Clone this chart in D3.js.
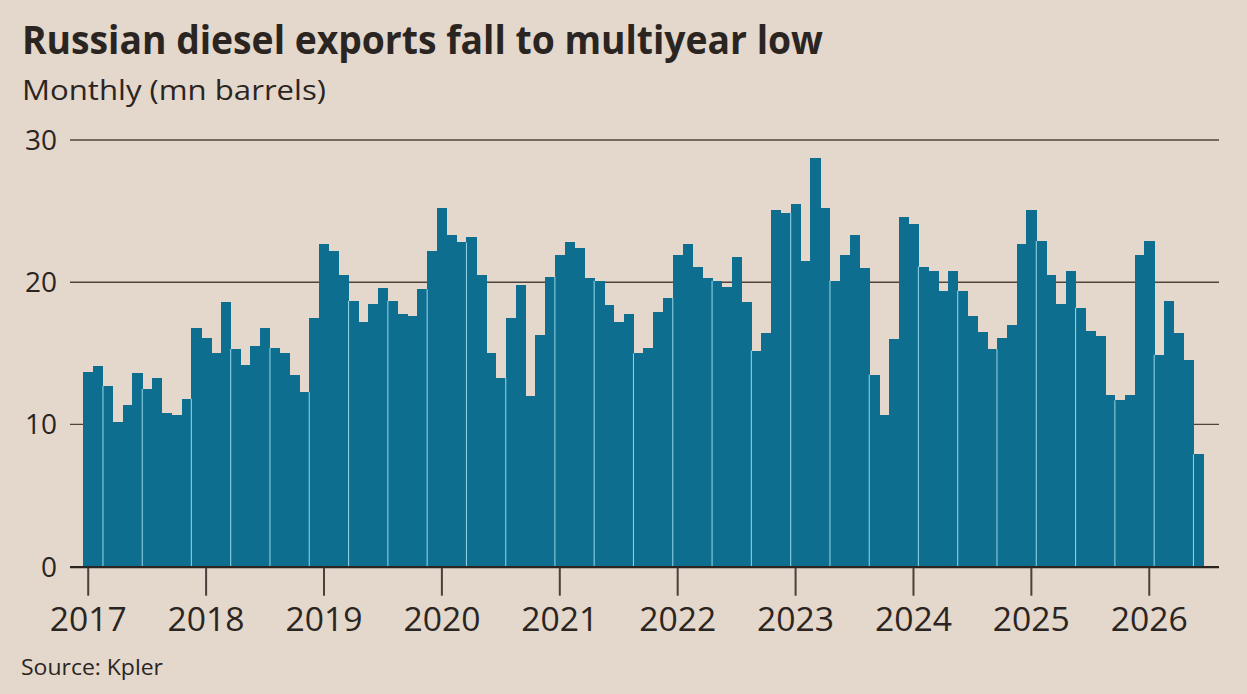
<!DOCTYPE html>
<html>
    <head>
        <meta charset="utf-8">
        <title>Russian diesel exports</title>
        <style>
            body { margin: 0; background: #e4d7cc; }
            svg text { font-family: "Open Sans", sans-serif; fill: #2b2522; }
        </style>
    </head>
    <body>
        <script src="https://cdnjs.cloudflare.com/ajax/libs/d3/7.8.5/d3.min.js" charset="utf-8"></script>
        <script>

        var w = 1247;
        var h = 694;

        // tick labels
        var years = ["2017", "2018", "2019", "2020", "2021", "2022", "2023", "2024", "2025", "2026"];
        var monthNames = ["Jan", "Feb", "Mar", "Apr", "May", "Jun", "Jul", "Aug", "Sep", "Oct", "Nov", "Dec"];
        var yTicks = [0, 10, 20, 30];

        // monthly exports, mn barrels, Jan 2017 - Jun 2026
        var exports = [
            13.7, 14.1, 12.7, 10.2, 11.4, 13.6, 12.5, 13.3, 10.8, 10.7, 11.8, 16.8,
            16.1, 15.0, 18.6, 15.3, 14.2, 15.5, 16.8, 15.4, 15.0, 13.5, 12.3, 17.5,
            22.7, 22.2, 20.5, 18.7, 17.2, 18.5, 19.6, 18.7, 17.8, 17.6, 19.5, 22.2,
            25.2, 23.3, 22.8, 23.2, 20.5, 15.0, 13.3, 17.5, 19.8, 12.0, 16.3, 20.4,
            21.9, 22.8, 22.4, 20.3, 20.1, 18.4, 17.2, 17.8, 15.0, 15.4, 17.9, 18.9,
            21.9, 22.7, 21.1, 20.3, 20.1, 19.7, 21.8, 18.6, 15.2, 16.4, 25.1, 24.9,
            25.5, 21.5, 28.7, 25.2, 20.1, 21.9, 23.3, 21.0, 13.5, 10.7, 16.0, 24.6,
            24.1, 21.1, 20.8, 19.4, 20.8, 19.4, 17.6, 16.5, 15.3, 16.1, 17.0, 22.7,
            25.1, 22.9, 20.5, 18.5, 20.8, 18.2, 16.6, 16.2, 12.1, 11.7, 12.1, 21.9,
            22.9, 14.9, 18.7, 16.4, 14.5, 7.9
        ];

        // month categories, e.g. "Jan 2017"
        var months = exports.map(function(d, i) {
            return monthNames[i % 12] + " " + years[Math.floor(i / 12)];
        });

        var dataset = months.map(function(m, i) { return { month: m, value: exports[i] }; });

        var svg = d3.select("body")
                    .append("svg")
                    .attr("width", w)
                    .attr("height", h);

        svg.append("rect")
            .attr("width", w)
            .attr("height", h)
            .attr("fill", "#e4d7cc");

        var xScale = d3.scaleBand()
                        .domain(months)
                        .range([83.3, 1203.3])
                        .padding(0);

        var yScale = d3.scaleLinear()
                        .domain([0, 30])
                        .range([566.7, 140]);

        var gridLeft = 70, gridRight = 1219;

        // gridlines
        svg.append("g")
            .selectAll("line")
            .data(yTicks.filter(function(d) { return d > 0; }))
            .enter()
            .append("line")
            .attr("x1", gridLeft)
            .attr("x2", gridRight)
            .attr("y1", function(d) { return yScale(d); })
            .attr("y2", function(d) { return yScale(d); })
            .attr("stroke", "#4f433c")
            .attr("stroke-width", 1.3);

        // y labels
        svg.append("g")
            .selectAll("text")
            .data(yTicks)
            .enter()
            .append("text")
            .attr("x", 57)
            .attr("y", function(d) { return yScale(d) + 10; })
            .attr("text-anchor", "end")
            .attr("font-size", 28)
            .text(function(d) { return d; });

        // bars
        svg.append("g")
            .attr("shape-rendering", "crispEdges")
            .selectAll("rect")
            .data(dataset)
            .enter()
            .append("rect")
            .attr("x", function(d) { return xScale(d.month); })
            .attr("y", function(d) { return yScale(d.value); })
            .attr("width", xScale.bandwidth() + 0.5)
            .attr("height", function(d) { return yScale(0) - yScale(d.value); })
            .attr("fill", "#0e6e8f");

        // thin light seams between some bars (as in the source image, roughly every 4 bars)
        var seams = [];
        for (var n = 1; ; n++) {
            var k = Math.ceil(n * 37 / 9 - 2.25);
            if (k >= dataset.length) break;
            seams.push(k);
        }
        svg.append("g")
            .selectAll("line")
            .data(seams)
            .enter()
            .append("line")
            .attr("x1", function(k) { return xScale(months[k]); })
            .attr("x2", function(k) { return xScale(months[k]); })
            .attr("y1", yScale(0))
            .attr("y2", function(k) { return yScale(Math.min(exports[k], exports[k - 1])); })
            .attr("stroke", "#8ccfe0")
            .attr("stroke-width", 1.1);

        // baseline
        svg.append("line")
            .attr("x1", gridLeft)
            .attr("x2", gridRight)
            .attr("y1", yScale(0) + 0.5)
            .attr("y2", yScale(0) + 0.5)
            .attr("stroke", "#2b2522")
            .attr("stroke-width", 2.2);

        // x axis: tick at each January
        var xAxis = d3.axisBottom(xScale)
                        .tickValues(years.map(function(y) { return "Jan " + y; }))
                        .tickFormat(function(d) { return d.slice(4); })
                        .tickSize(28)
                        .tickPadding(6);

        var gx = svg.append("g")
            .attr("transform", "translate(0," + (yScale(0) + 1) + ")")
            .call(xAxis);
        gx.select(".domain").remove();
        gx.selectAll(".tick line")
            .attr("stroke", "#4a3f3a")
            .attr("stroke-width", 2);
        gx.selectAll(".tick text")
            .attr("dy", null)
            .attr("y", 63)
            .attr("font-family", "Open Sans, sans-serif")
            .attr("font-size", 33)
            .attr("fill", "#2b2522")
            .attr("textLength", 77)
            .attr("lengthAdjust", "spacingAndGlyphs");

        // titles
        svg.append("text")
            .attr("x", 22)
            .attr("y", 54)
            .attr("font-size", 40)
            .attr("font-weight", "bold")
            .attr("textLength", 801)
            .attr("lengthAdjust", "spacingAndGlyphs")
            .text("Russian diesel exports fall to multiyear low");

        svg.append("text")
            .attr("x", 22)
            .attr("y", 100)
            .attr("font-size", 27)
            .attr("textLength", 304)
            .attr("lengthAdjust", "spacingAndGlyphs")
            .text("Monthly (mn barrels)");

        svg.append("text")
            .attr("x", 21)
            .attr("y", 675)
            .attr("font-size", 22)
            .attr("textLength", 142)
            .attr("lengthAdjust", "spacingAndGlyphs")
            .text("Source: Kpler");

        </script>
    </body>
</html>
